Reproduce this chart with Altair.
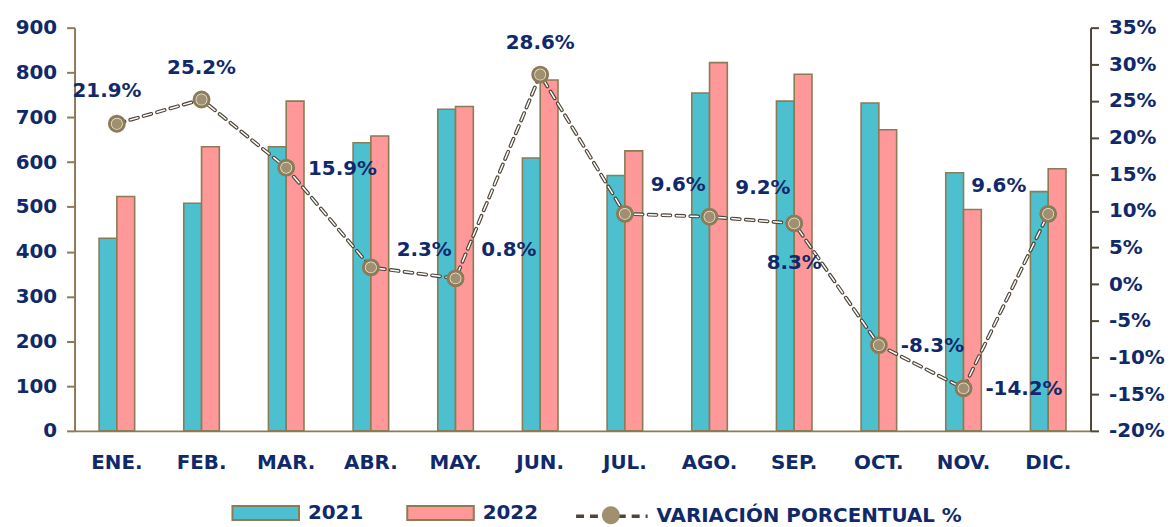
import altair as alt
import pandas as pd

meses = ["ENE.", "FEB.", "MAR.", "ABR.", "MAY.", "JUN.", "JUL.", "AGO.", "SEP.", "OCT.", "NOV.", "DIC."]
v2021 = [430, 508, 634, 643, 718, 609, 570, 754, 736, 732, 576, 534]
v2022 = [523, 634, 736, 658, 724, 783, 625, 822, 796, 672, 494, 585]
variacion = [21.9, 25.2, 15.9, 2.3, 0.8, 28.6, 9.6, 9.2, 8.3, -8.3, -14.2, 9.6]
anios = ["2021", "2022"]
serie = "VARIACIÓN PORCENTUAL %"
marcador = serie + "\u00a0"
ticks_izq = list(range(0, 901, 100))
ticks_der = list(range(-20, 36, 5))

NAVY = "#10296B"
OLIVE = "#8B7B56"
DARK = "#4E4536"
TEAL = "#4DC0CF"
PINK = "#FF9999"
FONT = "DejaVu Sans"
FS = 20
LEG_Y = 454

bars_df = pd.DataFrame({
    "mes": meses * 2,
    "anio": [anios[0]] * len(meses) + [anios[1]] * len(meses),
    "valor": v2021 + v2022,
})
line_df = pd.DataFrame({"mes": meses, "pct": variacion, "serie": [serie] * len(meses),
                        "marcador": [marcador] * len(meses)})

x_enc = alt.X(
    "mes:N", sort=meses,
    scale=alt.Scale(paddingInner=0.58, paddingOuter=0.29),
    axis=alt.Axis(title=None, labelAngle=0, ticks=False, domainColor=OLIVE, domainWidth=2,
                  labelFont=FONT, labelFontSize=FS, labelFontWeight="bold", labelColor=NAVY,
                  labelPadding=22),
)

bars = alt.Chart(bars_df).mark_bar(stroke=OLIVE, strokeWidth=1.6).encode(
    x=x_enc,
    xOffset=alt.XOffset("anio:N", sort=anios, scale=alt.Scale(paddingInner=0, paddingOuter=0)),
    y=alt.Y("valor:Q", scale=alt.Scale(domain=[0, 900], nice=False),
            axis=alt.Axis(title=None, values=ticks_izq, grid=False, domainColor=OLIVE, domainWidth=2,
                          tickColor=OLIVE, tickWidth=2, tickSize=8, labelPadding=10,
                          labelFont=FONT, labelFontSize=FS, labelFontWeight="bold", labelColor=NAVY)),
    fill=alt.Fill("anio:N", sort=anios, scale=alt.Scale(domain=anios, range=[TEAL, PINK]),
                  legend=alt.Legend(title=None, orient="none", legendX=158, legendY=LEG_Y,
                                    direction="horizontal", padding=0,
                                    symbolType="M-1,-0.21H1V0.21H-1Z", symbolSize=4489,
                                    symbolStrokeColor=OLIVE, symbolStrokeWidth=2,
                                    labelFont=FONT, labelFontSize=FS, labelFontWeight="bold",
                                    labelColor=NAVY, labelOffset=8, columnPadding=40)),
)

y_right = alt.Y("pct:Q", scale=alt.Scale(domain=[-20, 35], nice=False),
                axis=alt.Axis(title=None, orient="right", values=ticks_der, grid=False,
                              labelExpr="datum.value + '%'", domainColor=DARK, domainWidth=2,
                              tickColor=DARK, tickWidth=2, tickSize=8, labelPadding=10,
                              labelFont=FONT, labelFontSize=FS, labelFontWeight="bold",
                              labelColor=NAVY))

base = alt.Chart(line_df)
x_l = alt.X("mes:N", sort=meses)

line_dark = base.mark_line(strokeWidth=3.8, strokeDash=[8, 6], strokeCap="round").encode(
    x=x_l, y=y_right,
    stroke=alt.Stroke("serie:N", scale=alt.Scale(domain=[serie], range=[DARK]),
                      legend=alt.Legend(title=None, orient="none", legendX=503, legendY=LEG_Y,
                                        padding=0, symbolType="stroke", symbolSize=5184,
                                        symbolDash=[8, 6], symbolStrokeWidth=3.5,
                                        labelFont=FONT, labelFontSize=FS, labelFontWeight="bold",
                                        labelColor=NAVY, labelOffset=7, labelLimit=500)),
)
line_white = base.mark_line(strokeWidth=1.5, strokeDash=[8, 6], strokeCap="round", color="white").encode(
    x=x_l, y=y_right,
)
ring = base.mark_point(shape="circle", size=225, filled=False, stroke=OLIVE, strokeWidth=3,
                       fill="#EFEAE0", fillOpacity=1).encode(
    x=x_l, y=y_right,
)
dot = base.mark_circle(size=110, color="#A09070", opacity=1).encode(
    x=x_l, y=y_right,
    opacity=alt.Opacity("marcador:N", scale=alt.Scale(domain=[marcador], range=[1]),
                        legend=alt.Legend(title=None, orient="none", legendX=503, legendY=LEG_Y,
                                          padding=0, symbolSize=5184,
                                          symbolType="M-0.25,0A0.25,0.25 0 1,1 0.25,0A0.25,0.25 0 1,1 -0.25,0Z",
                                          symbolFillColor="#9A8A66", symbolStrokeColor=OLIVE,
                                          symbolStrokeWidth=2, symbolOpacity=1,
                                          labelOpacity=0, labelFont=FONT, labelFontSize=FS,
                                          labelFontWeight="bold", labelOffset=7, labelLimit=500)),
)

grupos = [
    (["ENE."], "center", -10, -33),
    (["FEB.", "JUN."], "center", 0, -32),
    (["MAR.", "OCT.", "NOV."], "left", 22, 1),
    (["ABR."], "left", 26, -17),
    (["MAY.", "JUL.", "AGO."], "left", 26, -29),
    (["SEP."], "center", 0, 40),
    (["DIC."], "right", -22, -28),
]
textos = []
for lista, al, dx, dy in grupos:
    textos.append(
        base.transform_filter(alt.FieldOneOfPredicate(field="mes", oneOf=lista))
        .transform_calculate(etiqueta="replace(format(datum.pct, '.1f'), '\u2212', '-') + '%'")
        .mark_text(align=al, baseline="middle", dx=dx, dy=dy, font=FONT, fontSize=FS,
                   fontWeight="bold", color=NAVY)
        .encode(x=x_l, y=y_right, text="etiqueta:N")
    )

linea = alt.layer(line_dark, line_white, ring, dot, *textos)

chart = alt.layer(bars, linea).resolve_scale(y="independent").properties(
    width=1023, height=406,
    padding={"left": 67, "top": 18, "right": 77, "bottom": 95},
    autosize=alt.AutoSizeParams(type="none"),
).configure(background="white").configure_view(stroke=None)

chart.save("out.html", embed_options={"renderer": "svg", "actions": False})
